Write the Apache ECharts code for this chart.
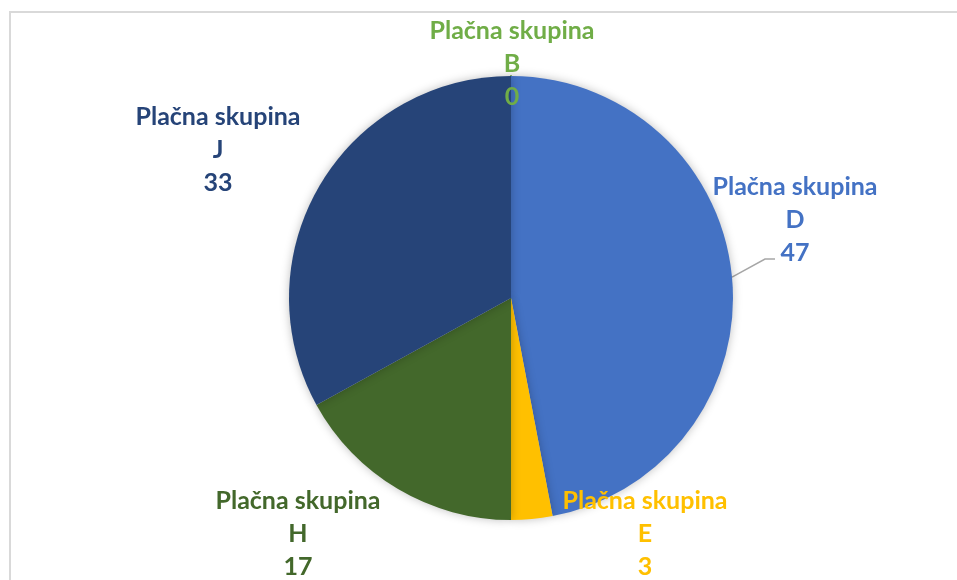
<!DOCTYPE html>
<html>
<head>
<meta charset="utf-8">
<script src="https://cdn.jsdelivr.net/npm/echarts@6/dist/echarts.min.js"></script>
<style>
    html, body { margin: 0; padding: 0; background: #fff; }
    #main { width: 957px; height: 580px; position: relative; }
    #frame { position: absolute; left: 9px; top: 11px; width: 960px; height: 580px;
             border: 2px solid #d9d9d9; box-sizing: border-box; pointer-events: none; }
</style>
</head>
<body>
<div id="main"></div>
<div id="frame"></div>
<script>
// podatki
var categories = ['Plačna skupina B', 'Plačna skupina D', 'Plačna skupina E', 'Plačna skupina H', 'Plačna skupina J'];
var values = [0, 47, 3, 17, 33];
var colors = ['#70AD47', '#4472C4', '#FFC000', '#43682B', '#264478'];

// kje stojijo napisi (sredina bloka)
var labelX = [512, 795, 645, 298, 218];
var labelY = [64, 220, 534, 534, 150];

var myChart = echarts.init(document.getElementById('main'));

var data = [];
for (var i = 0; i < categories.length; i++) {
    data.push({
        name: categories[i],
        value: values[i],
        itemStyle: { color: colors[i] },
        label: { color: colors[i] },
        labelLine: { show: i == 1 }
    });
}
// ničelni delež - samo črta
data[0].itemStyle.borderColor = colors[0];
data[0].itemStyle.borderWidth = 2;

myChart.setOption({
    animation: false,
    series: [
        {
            type: 'pie',
            center: [511, 298],
            radius: 222,
            startAngle: 90,
            clockwise: true,
            stillShowZeroSum: true,
            data: data,
            itemStyle: {
                shadowBlur: 10,
                shadowColor: 'rgba(0,0,0,0.25)'
            },
            label: {
                show: true,
                position: 'outside',
                formatter: function (p) {
                    var k = p.name.lastIndexOf(' ');
                    return p.name.substring(0, k) + '\n' + p.name.substring(k + 1) + '\n' + p.value;
                },
                fontFamily: 'Lato',
                fontWeight: 'bold',
                fontSize: 25,
                lineHeight: 33,
                align: 'center'
            },
            labelLine: {
                lineStyle: { color: '#a6a6a6', width: 1.5 }
            },
            labelLayout: function (p) {
                var lx = labelX[p.dataIndex], ly = labelY[p.dataIndex];
                var res = {
                    x: lx,
                    y: ly,
                    align: 'center',
                    verticalAlign: 'middle'
                };
                // vodilna črta do vrednosti
                if (p.labelLinePoints && p.labelLinePoints.length) {
                    res.labelLinePoints = [p.labelLinePoints[0], [lx - 30, ly + 39], [lx - 20, ly + 39]];
                }
                return res;
            }
        }
    ]
});
</script>
</body>
</html>
